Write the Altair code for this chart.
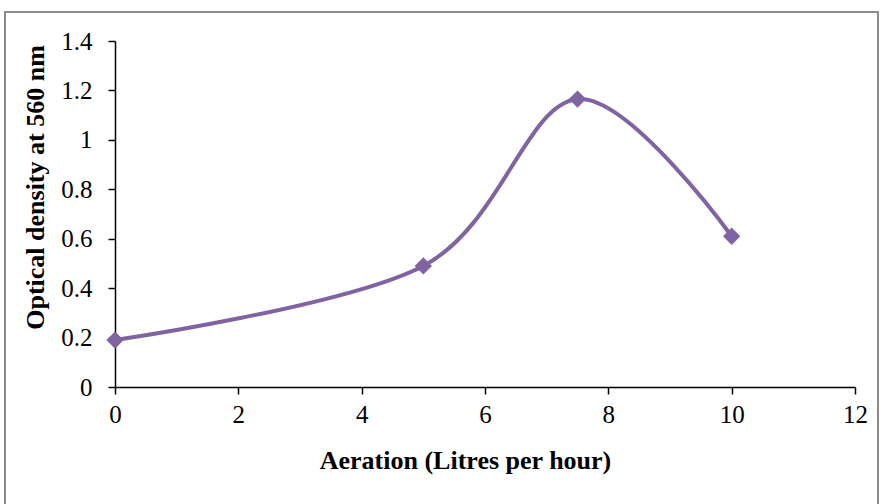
import altair as alt
import pandas as pd

# Aeration rate (L/h) vs. optical density at 560 nm
aeration = [0, 5, 7.5, 10]
optical_density = [0.19, 0.49, 1.165, 0.61]

x_ticks = [0, 2, 4, 6, 8, 10, 12]
y_ticks = [0, 0.2, 0.4, 0.6, 0.8, 1.0, 1.2, 1.4]

df = pd.DataFrame({"aeration": aeration, "od": optical_density})

PURPLE = "#8064A2"
FONT = "Liberation Serif"

x_enc = alt.X(
    "aeration:Q",
    scale=alt.Scale(domain=[0, 12], nice=False, zero=False),
    axis=alt.Axis(
        values=x_ticks,
        format="~g",
        title="Aeration (Litres per hour)",
        grid=False,
        tickSize=7,
        labelPadding=8,
        labelFlush=False,
        titlePadding=20,
        titleX=350,
    ),
)
y_enc = alt.Y(
    "od:Q",
    scale=alt.Scale(domain=[0, 1.4], nice=False),
    axis=alt.Axis(
        values=y_ticks,
        format="~g",
        title="Optical density at 560 nm",
        grid=False,
        tickSize=7,
        labelPadding=16,
        labelFlush=False,
        titlePadding=12,
        titleY=146,
    ),
)

base = alt.Chart(df)

curve = base.mark_line(
    interpolate="cardinal", color=PURPLE, strokeWidth=4
).encode(x=x_enc, y=y_enc)

markers = base.mark_point(
    shape="diamond", filled=True, size=300, color=PURPLE, opacity=1
).encode(x="aeration:Q", y="od:Q")

# gray outer frame around the chart
frame = alt.Chart(pd.DataFrame({"k": [0]})).mark_rect(
    fill=None, stroke="#8c8c8c", strokeWidth=2
).encode(
    x=alt.value(-110), x2=alt.value(763),
    y=alt.value(-29), y2=alt.value(490),
)

chart = (
    alt.layer(frame, curve, markers)
    .properties(
        width=740,
        height=346,
        autosize=alt.AutoSizeParams(type="none"),
        padding={"left": 115, "top": 41, "right": 25, "bottom": 117},
    )
    .configure_view(stroke=None)
    .configure_axis(
        domainColor="black",
        tickColor="black",
        domainWidth=1.5,
        tickWidth=1.5,
        labelFont=FONT,
        labelFontSize=25,
        labelColor="black",
        titleFont=FONT,
        titleFontSize=26,
        titleFontWeight="bold",
        titleColor="black",
    )
)

chart.save("out.html", embed_options={"renderer": "svg", "actions": False})
